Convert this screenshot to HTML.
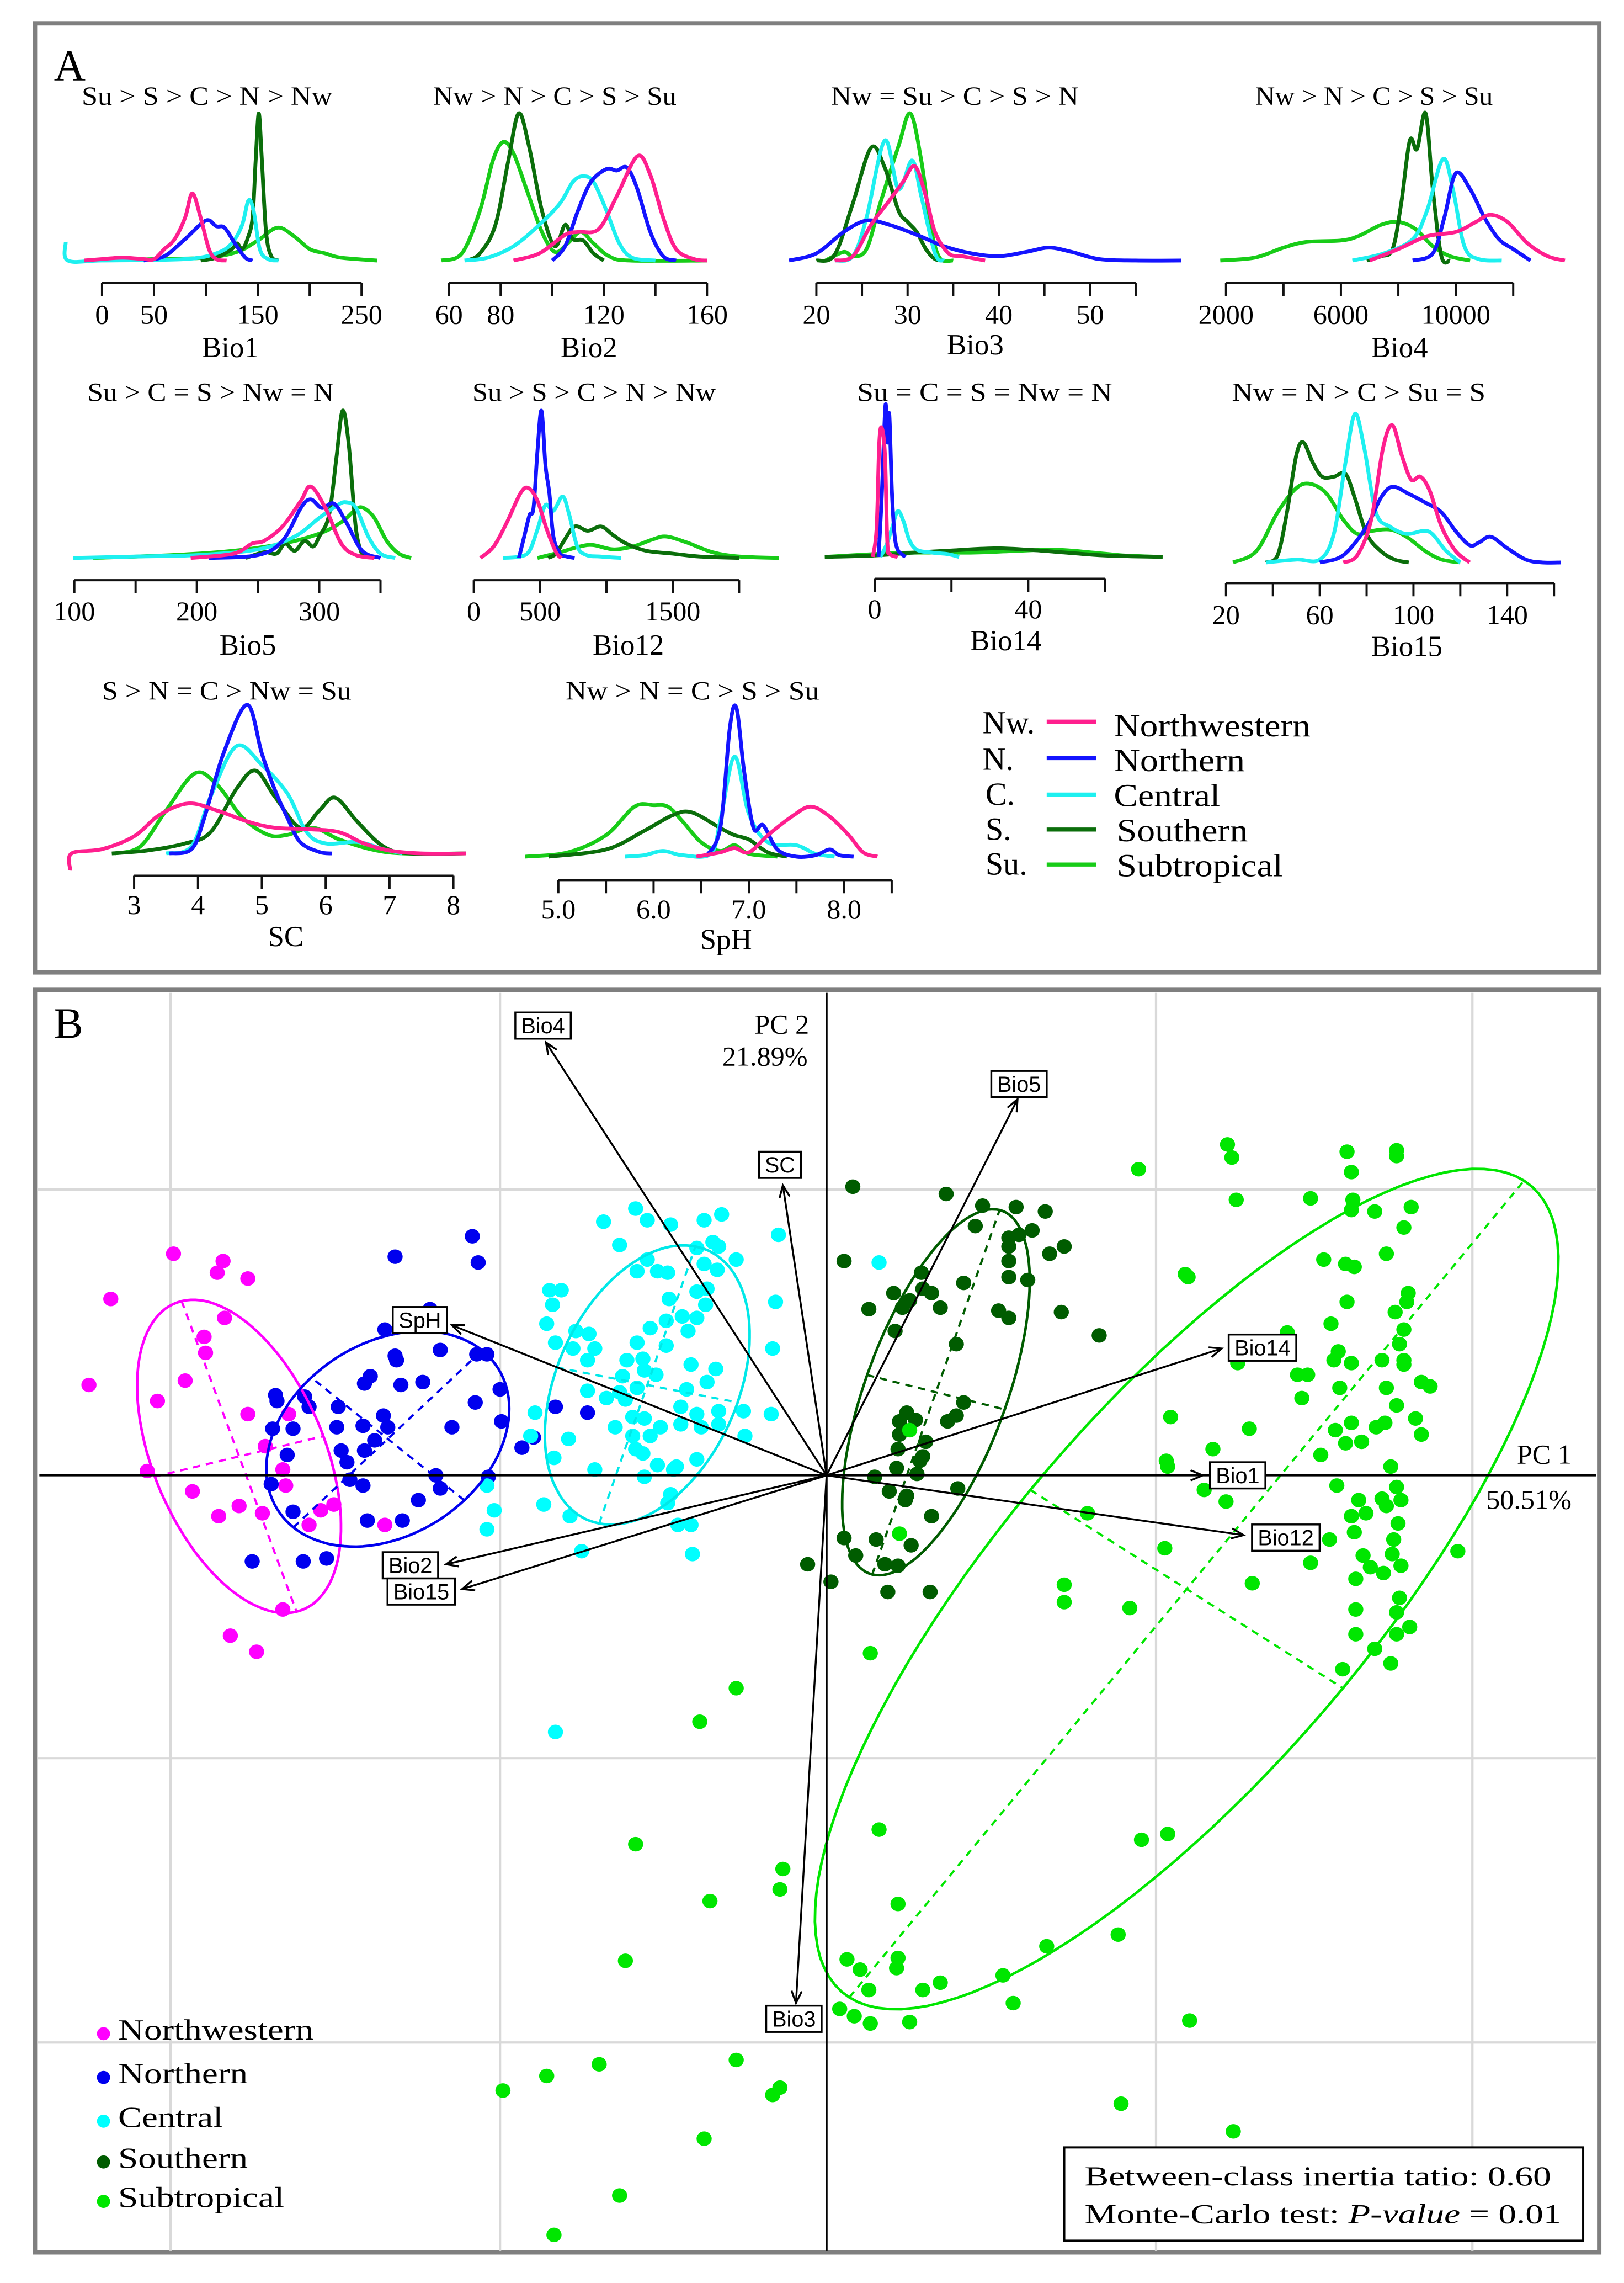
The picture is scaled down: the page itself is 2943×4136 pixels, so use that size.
<!DOCTYPE html>
<html><head><meta charset="utf-8"><style>
html,body{margin:0;padding:0;background:#fff;}
svg{display:block;}
text{font-family:"Liberation Serif",serif;}
.sans{font-family:"Liberation Sans",sans-serif;}
</style></head>
<body>
<svg id="fig" xmlns="http://www.w3.org/2000/svg" width="2943" height="4136" viewBox="0 0 1114 1566" preserveAspectRatio="none">
<rect x="0" y="0" width="1114" height="1566" fill="#fff"/>
<g>
<rect x="24" y="16" width="1073" height="651" fill="none" stroke="#7f7f7f" stroke-width="3"/>
<text x="37" y="55" font-size="30">A</text>
<g id="densities"></g>
<g font-size="22">
<text x="674" y="503">Nw.</text>
<text x="674" y="528">N.</text>
<text x="676" y="552">C.</text>
<text x="676" y="576">S.</text>
<text x="676" y="600">Su.</text>
<line x1="718" y1="495" x2="752" y2="495" stroke="#ff1f8e" stroke-width="2.8"/>
<line x1="718" y1="520" x2="752" y2="520" stroke="#1414ff" stroke-width="2.8"/>
<line x1="718" y1="545" x2="752" y2="545" stroke="#1ef0f0" stroke-width="2.8"/>
<line x1="718" y1="569" x2="752" y2="569" stroke="#0b6e0b" stroke-width="2.8"/>
<line x1="718" y1="593" x2="752" y2="593" stroke="#18cc18" stroke-width="2.8"/>
<text x="764" y="505" textLength="135" lengthAdjust="spacingAndGlyphs">Northwestern</text>
<text x="764" y="529" textLength="90" lengthAdjust="spacingAndGlyphs">Northern</text>
<text x="764" y="553" textLength="73" lengthAdjust="spacingAndGlyphs">Central</text>
<text x="766" y="577" textLength="90" lengthAdjust="spacingAndGlyphs">Southern</text>
<text x="766" y="601" textLength="114" lengthAdjust="spacingAndGlyphs">Subtropical</text>
</g>
</g>
<g>
<rect x="24" y="679" width="1073" height="866" fill="none" stroke="#7f7f7f" stroke-width="3"/>
<g id="grid"></g>
<g id="scatter"></g>
<g id="ellipses"></g>
<line x1="27" y1="1012" x2="1095" y2="1012" stroke="#000" stroke-width="1.4"/>
<line x1="567" y1="681" x2="567" y2="1544" stroke="#000" stroke-width="1.4"/>
<g id="arrows"></g>
<text x="37" y="712" font-size="30">B</text>
<text x="555" y="709" font-size="19" text-anchor="end">PC 2</text>
<text x="554" y="731" font-size="19" text-anchor="end">21.89%</text>
<text x="1078" y="1004" font-size="19" text-anchor="end">PC 1</text>
<text x="1078" y="1035" font-size="19" text-anchor="end">50.51%</text>
<g font-size="20">
<circle cx="71" cy="1395" r="4.5" fill="#ff00ff"/>
<circle cx="71" cy="1425" r="4.5" fill="#0000ee"/>
<circle cx="71" cy="1455" r="4.5" fill="#00ffff"/>
<circle cx="71" cy="1483" r="4.5" fill="#005c00"/>
<circle cx="71" cy="1510" r="4.5" fill="#00e600"/>
<text x="81" y="1399" textLength="134" lengthAdjust="spacingAndGlyphs">Northwestern</text>
<text x="81" y="1429" textLength="89" lengthAdjust="spacingAndGlyphs">Northern</text>
<text x="81" y="1459" textLength="72" lengthAdjust="spacingAndGlyphs">Central</text>
<text x="81" y="1487" textLength="89" lengthAdjust="spacingAndGlyphs">Southern</text>
<text x="81" y="1514" textLength="114" lengthAdjust="spacingAndGlyphs">Subtropical</text>
</g>
<g>
<rect x="730" y="1473" width="356" height="64" fill="#fff" stroke="#000" stroke-width="1.5"/>
<text x="744" y="1499" font-size="19" textLength="320" lengthAdjust="spacingAndGlyphs">Between-class inertia tatio: 0.60</text>
<text x="744" y="1525" font-size="19" textLength="327" lengthAdjust="spacingAndGlyphs">Monte-Carlo test: <tspan font-style="italic">P-value</tspan> = 0.01</text>
</g>
</g>
</svg>
<script>
// ===================== PANEL A DATA (value, density) =====================
const bio1Nw=[[-17,0],[0,1],[20,2],[40,1],[50,1],[60,8],[70,15],[80,30],[87,47],[95,30],[103,8],[110,1],[120,0]];
const bio1N=[[40,0],[60,3],[80,15],[100,28],[110,24],[118,23],[128,12],[138,2],[145,0]];
const bio1C=[[-35,13],[-33,0],[0,0],[80,1],[110,5],[125,12],[135,25],[141,42],[146,35],[152,8],[160,1],[170,0]];
const bio1S=[[95,0],[110,2],[125,8],[130,12],[135,8],[140,15],[145,30],[148,70],[151,103],[154,70],[158,20],[163,3],[170,0]];
const bio1Su=[[-17,0],[50,1],[100,2],[130,6],[150,14],[169,23],[185,17],[200,8],[215,5],[230,2],[265,0]];
const bio2Nw=[[85,0],[95,5],[105,18],[110,20],[118,22],[125,45],[133,73],[138,60],[143,30],[148,8],[155,1],[160,0]];
const bio2N=[[100,0],[105,10],[110,35],[115,55],[121,64],[125,63],[129,65],[133,50],[138,20],[143,3],[148,0]];
const bio2C=[[66,0],[75,2],[85,10],[95,25],[103,40],[108,55],[112,59],[116,55],[121,35],[126,12],[131,2],[140,0]];
const bio2S=[[67,0],[72,5],[78,25],[83,70],[87,103],[91,80],[96,35],[101,10],[105,25],[108,15],[112,14],[116,5],[120,0]];
const bio2Su=[[57,0],[65,5],[72,35],[77,70],[81,83],[85,75],[90,50],[96,20],[101,6],[106,12],[111,20],[116,12],[122,3],[130,0],[160,0]];
const bio3Nw=[[22,0],[24,3],[26,25],[28,42],[29.5,55],[30.8,66],[32,45],[33,20],[34.5,5],[36,3],[38.5,0]];
const bio3N=[[17,0],[20,5],[23,20],[25.5,28],[28,25],[31,18],[34,10],[37,5],[40,3],[43,6],[45.5,9],[48,6],[51,1],[55,0],[60,0]];
const bio3C=[[22,0],[24,3],[25.5,30],[27.5,84],[29,50],[30.5,70],[31.5,45],[33,5],[34,0]];
const bio3S=[[20,0],[22,4],[24,40],[26,79],[27.5,65],[29,35],[30,27],[31,20],[32,8],[33,1],[34,0]];
const bio3Su=[[21,0],[23,6],[24,3],[25.5,8],[27,40],[29,80],[30.3,103],[31.5,70],[32.5,25],[33.5,2],[35,0]];
const bio4Nw=[[7000,0],[8000,8],[9000,17],[10000,20],[10700,27],[11200,32],[11800,27],[12500,12],[13200,3],[13800,0]];
const bio4N=[[8500,0],[9200,5],[9600,30],[10000,61],[10500,50],[11000,30],[11500,15],[12000,8],[12600,0]];
const bio4C=[[6400,0],[7500,5],[8500,15],[9000,35],[9550,71],[9900,50],[10300,10],[10800,1],[11600,0]];
const bio4S=[[6900,0],[7400,3],[7800,8],[8100,40],[8400,84],[8650,78],[8950,103],[9200,50],[9500,3],[9800,0]];
const bio4Su=[[1800,0],[3000,2],[4000,9],[4800,13],[6000,14],[6600,17],[7400,25],[8000,27],[8600,22],[9200,10],[9800,3],[10500,0]];
const bio5Nw=[[195,0],[230,3],[245,10],[255,12],[270,22],[285,40],[293,50],[305,35],[318,10],[330,2],[345,0]];
const bio5N=[[210,0],[250,2],[270,12],[285,35],[293,41],[302,35],[312,38],[322,25],[335,5],[350,0]];
const bio5C=[[99,0],[150,1],[200,2],[250,6],[280,15],[300,28],[315,37],[322,39],[330,35],[340,15],[350,3],[362,0]];
const bio5S=[[240,0],[255,4],[265,3],[272,10],[280,5],[288,12],[295,8],[300,15],[308,30],[314,70],[319,103],[324,80],[330,20],[336,0]];
const bio5Su=[[115,0],[180,2],[230,5],[270,10],[300,17],[318,25],[330,34],[336,35],[345,28],[355,12],[365,3],[375,0]];
const bio12Nw=[[50,0],[150,8],[250,25],[350,45],[410,49],[480,40],[550,20],[620,4],[660,0]];
const bio12N=[[340,0],[380,15],[420,30],[450,35],[480,75],[510,103],[540,65],[570,45],[600,15],[650,3],[700,1],[760,0]];
const bio12C=[[220,0],[350,1],[420,5],[480,20],[540,37],[600,33],[670,43],[720,30],[780,8],[850,2],[950,1],[1110,0]];
const bio12S=[[560,0],[620,3],[680,12],[760,22],[860,19],[960,22],[1050,16],[1150,10],[1300,5],[1500,3],[1700,1],[2000,0]];
const bio12Su=[[480,0],[650,4],[800,8],[900,9],[1050,6],[1200,8],[1350,13],[1450,15],[1600,11],[1800,4],[2000,1],[2300,0]];
const bio14Nw=[[-0.5,0],[0.5,20],[1.2,80],[1.9,90],[2.7,70],[3.3,10],[4,2],[6,0]];
const bio14N=[[1,0],[1.8,40],[2.8,106],[3.3,80],[3.8,100],[4.5,45],[5.2,15],[6,5],[7,2],[8,0]];
const bio14C=[[1.5,0],[3,8],[4.5,20],[6,32],[7.5,25],[9,12],[11,5],[15,3],[19,2],[22,0]];
const bio14S=[[-13,0],[0,1],[10,3],[20,4.5],[31,6],[40,5],[50,3],[60,1],[75,0]];
const bio14Su=[[-13,0],[0,2],[10,3],[25,3],[35,4],[47,5],[57,3],[65,1],[75,0]];
const bio15Nw=[[70,0],[76,5],[82,30],[87,80],[91,96],[95,75],[99,58],[103,60],[107,50],[112,25],[118,8],[124,0]];
const bio15N=[[60,0],[70,5],[80,25],[86,45],[91,53],[98,48],[105,42],[112,35],[118,22],[124,12],[128,14],[133,18],[140,10],[148,2],[155,0],[163,0]];
const bio15C=[[37,0],[50,2],[60,2],[66,20],[71,70],[75,104],[79,80],[84,35],[90,25],[97,20],[104,22],[108,20],[114,8],[120,0]];
const bio15S=[[37,0],[42,5],[46,35],[50,75],[53,84],[57,70],[61,60],[66,60],[71,62],[75,45],[80,20],[86,8],[92,2],[98,0]];
const bio15Su=[[23,0],[33,8],[42,35],[50,52],[56,55],[63,48],[70,30],[76,20],[82,22],[90,23],[97,18],[105,8],[112,2],[120,0]];
const scNw=[[2.0,-12],[2.02,0],[2.5,3],[3.0,12],[3.4,27],[3.85,35],[4.3,30],[4.8,22],[5.2,18],[5.7,17],[6.2,15],[6.6,7],[7.0,2],[7.5,0],[8.2,0]];
const scN=[[3.55,0],[3.9,3],[4.1,25],[4.4,70],[4.77,104],[5.0,70],[5.2,45],[5.4,25],[5.6,8],[5.9,1],[6.1,0]];
const scC=[[3.5,0],[3.9,5],[4.2,40],[4.6,75],[5.0,62],[5.4,42],[5.7,15],[6.0,7],[6.5,8],[6.9,3],[7.2,0]];
const scS=[[2.65,0],[3.2,2],[3.8,7],[4.2,15],[4.6,45],[4.9,58],[5.2,40],[5.6,18],[5.9,30],[6.15,39],[6.5,22],[6.9,5],[7.3,0],[8.2,0]];
const scSu=[[2.7,0],[3.1,5],[3.5,30],[3.95,56],[4.3,48],[4.7,25],[5.1,13],[5.4,13],[5.8,18],[6.2,10],[6.7,3],[7.2,0],[8.2,0]];
const sphNw=[[6.45,0],[6.7,3],[6.85,6],[7.0,3],[7.2,15],[7.45,28],[7.65,35],[7.85,28],[8.05,15],[8.2,3],[8.35,0]];
const sphN=[[6.55,0],[6.7,20],[6.8,90],[6.87,104],[6.95,60],[7.05,20],[7.15,22],[7.3,5],[7.5,0],[7.7,1],[7.85,5],[7.95,1],[8.1,0]];
const sphC=[[5.7,0],[5.9,1],[6.1,4],[6.3,1],[6.6,2],[6.7,25],[6.85,70],[7.0,30],[7.2,10],[7.5,8],[7.7,2],[7.9,0]];
const sphS=[[4.9,0],[5.5,5],[5.9,18],[6.2,29],[6.4,31],[6.7,20],[6.85,15],[7.0,12],[7.2,3],[7.4,0]];
const sphSu=[[4.65,0],[5.1,3],[5.5,15],[5.8,35],[6.0,36],[6.15,35],[6.3,25],[6.5,10],[6.7,4],[6.85,8],[7.0,2],[7.3,0]];

const bio1Ticks=[0,50,100,150,200,250], bio1Labels=[0,50,150,250];
const bio2Ticks=[60,80,100,120,140,160], bio2Labels=[60,80,120,160];
const bio3Ticks=[20,25,30,35,40,45,50,55], bio3Labels=[20,30,40,50];
const bio4Ticks=[2000,4000,6000,8000,10000,12000], bio4Labels=[2000,6000,10000];
const bio5Ticks=[100,150,200,250,300,350], bio5Labels=[100,200,300];
const bio12Ticks=[0,500,1000,1500,2000], bio12Labels=[0,500,1500];
const bio14Ticks=[0,20,40,60], bio14Labels=[0,40];
const bio15Ticks=[20,40,60,80,100,120,140,160], bio15Labels=[20,60,100,140];
const scTicks=[3,4,5,6,7,8], scLabels=[3,4,5,6,7,8];
const sphTicks=[5.0,5.5,6.0,6.5,7.0,7.5,8.0,8.5], sphLabels=["5.0","6.0","7.0","8.0"];

// ===================== PANEL B DATA (PC1, PC2 scores) =====================
const nwPoints=[[-4.48,1.52],[-4.14,1.47],[-4.18,1.39],[-3.97,1.35],[-4.91,1.21],[-4.13,1.08],[-4.27,0.95],[-4.26,0.84],[-5.06,0.62],[-4.40,0.65],[-4.59,0.51],[-3.97,0.42],[-3.69,0.42],[-3.85,0.20],[-4.66,0.03],[-3.73,0.04],[-3.71,-0.07],[-4.35,-0.11],[-4.03,-0.21],[-4.17,-0.28],[-3.87,-0.26],[-3.55,-0.34],[-3.47,-0.24],[-3.38,-0.20],[-3.03,-0.34],[-3.73,-0.92],[-4.09,-1.10],[-3.91,-1.21]];
const nPoints=[[-2.43,1.64],[-2.39,1.46],[-2.96,1.50],[-2.72,1.14],[-3.03,1.00],[-2.96,0.82],[-2.95,0.79],[-2.65,0.86],[-2.40,0.83],[-2.33,0.83],[-2.24,0.59],[-2.41,0.50],[-2.23,0.37],[-2.57,0.33],[-2.77,0.64],[-2.92,0.62],[-3.17,0.63],[-3.13,0.68],[-3.35,0.47],[-3.55,0.47],[-3.78,0.55],[-3.77,0.51],[-3.58,0.54],[-3.80,0.32],[-3.66,0.32],[-3.36,0.33],[-3.18,0.34],[-3.04,0.41],[-3.01,0.33],[-3.10,0.24],[-3.33,0.17],[-3.17,0.17],[-3.29,0.09],[-3.70,0.14],[-3.81,-0.06],[-3.27,-0.03],[-3.18,-0.07],[-2.68,0.00],[-2.65,-0.09],[-2.32,-0.01],[-2.09,0.19],[-2.01,0.26],[-1.86,0.47],[-1.64,0.43],[-2.80,-0.17],[-2.91,-0.31],[-3.15,-0.31],[-3.66,-0.25],[-3.94,-0.59],[-3.59,-0.59],[-3.43,-0.57]];
const cPoints=[[-1.31,1.83],[-1.23,1.75],[-1.53,1.74],[-1.07,1.72],[-0.84,1.75],[-0.72,1.79],[-0.33,1.65],[-1.42,1.58],[-0.89,1.56],[-0.78,1.60],[-0.74,1.57],[-0.62,1.48],[-1.23,1.48],[-1.30,1.40],[-1.16,1.40],[-1.09,1.39],[-0.84,1.45],[-0.75,1.41],[-1.90,1.27],[-1.82,1.27],[-1.88,1.17],[-1.08,1.21],[-0.89,1.26],[-0.82,1.28],[-0.83,1.17],[-0.35,1.19],[-1.92,1.04],[-1.10,1.06],[-0.99,1.09],[-0.89,1.08],[-0.95,0.99],[-1.21,1.01],[-1.72,0.99],[-1.63,0.97],[-1.86,0.91],[-1.74,0.87],[-1.59,0.87],[-1.64,0.79],[-1.30,0.91],[-1.10,0.89],[-0.37,0.87],[-1.37,0.79],[-1.26,0.80],[-1.25,0.72],[-0.93,0.76],[-0.76,0.73],[-1.40,0.68],[-1.17,0.69],[-0.82,0.64],[-1.64,0.58],[-1.42,0.57],[-1.30,0.60],[-0.96,0.59],[-1.51,0.53],[-1.38,0.52],[-1.00,0.47],[-0.74,0.44],[-0.57,0.44],[-0.38,0.42],[-2.00,0.43],[-1.45,0.33],[-1.33,0.40],[-1.25,0.39],[-1.14,0.33],[-1.00,0.35],[-0.89,0.42],[-0.86,0.33],[-0.74,0.35],[-0.56,0.27],[-1.77,0.25],[-1.33,0.27],[-1.21,0.27],[-1.26,0.15],[-1.87,0.12],[-1.31,0.18],[-0.89,0.11],[-1.16,0.07],[-1.05,0.04],[-1.03,0.06],[-1.59,0.04],[-1.25,-0.01],[-1.07,-0.13],[-1.09,-0.19],[-1.94,-0.20],[-1.76,-0.28],[-1.02,-0.34],[-0.93,-0.34],[-1.68,-0.52],[-0.92,-0.54],[-2.33,-0.07],[-2.28,-0.24],[-2.33,-0.37],[-2.03,0.27],[-1.86,-1.76],[0.36,1.46]];
const sPoints=[[0.18,1.98],[0.82,1.93],[1.07,1.85],[1.30,1.84],[1.50,1.81],[1.02,1.71],[1.41,1.68],[1.25,1.63],[1.32,1.65],[1.25,1.57],[1.63,1.57],[1.53,1.52],[0.12,1.47],[1.25,1.47],[0.65,1.39],[1.25,1.36],[1.38,1.34],[0.94,1.32],[0.46,1.25],[0.66,1.28],[0.72,1.25],[0.57,1.20],[0.52,1.15],[0.78,1.15],[0.29,1.14],[1.18,1.13],[1.25,1.08],[1.61,1.12],[1.87,0.96],[0.47,0.99],[0.89,0.90],[0.55,0.43],[0.94,0.50],[0.89,0.41],[0.83,0.37],[0.50,0.37],[0.61,0.38],[0.50,0.28],[0.68,0.23],[0.49,0.18],[0.66,0.13],[0.64,0.10],[0.48,0.05],[0.33,-0.01],[0.62,0.01],[0.43,-0.11],[0.90,-0.09],[0.55,-0.14],[0.54,-0.17],[0.72,-0.28],[0.12,-0.43],[0.34,-0.44],[0.20,-0.55],[0.58,-0.48],[0.40,-0.61],[0.49,-0.62],[-0.13,-0.61],[0.03,-0.73],[0.42,-0.80],[0.71,-0.80]];
const suPoints=[[2.75,2.27],[2.78,2.18],[3.57,2.22],[3.91,2.23],[3.91,2.19],[3.60,2.08],[2.14,2.10],[2.81,1.89],[3.32,1.90],[3.61,1.89],[3.60,1.82],[3.76,1.81],[4.01,1.84],[3.96,1.70],[3.41,1.48],[3.56,1.45],[3.62,1.43],[3.84,1.52],[2.46,1.38],[2.48,1.36],[3.57,1.19],[3.99,1.25],[3.98,1.19],[3.90,1.12],[3.46,1.04],[3.96,1.00],[3.16,0.98],[3.93,0.90],[2.82,0.77],[3.51,0.85],[3.48,0.79],[3.60,0.77],[3.81,0.79],[3.96,0.79],[3.96,0.76],[3.23,0.69],[3.30,0.69],[3.52,0.60],[3.84,0.60],[4.08,0.64],[4.14,0.61],[3.26,0.53],[3.91,0.48],[2.36,0.40],[2.90,0.32],[4.04,0.39],[3.60,0.36],[3.49,0.31],[3.83,0.36],[3.77,0.33],[4.08,0.28],[3.56,0.22],[3.67,0.23],[2.65,0.18],[3.39,0.14],[2.33,0.10],[2.34,0.06],[0.57,0.31],[3.87,0.06],[3.50,-0.07],[2.59,-0.10],[2.74,-0.18],[3.91,-0.08],[3.65,-0.17],[3.81,-0.16],[3.94,-0.17],[3.84,-0.21],[3.60,-0.28],[3.70,-0.26],[1.79,-0.26],[3.92,-0.33],[3.62,-0.39],[3.45,-0.44],[3.89,-0.44],[4.33,-0.52],[2.32,-0.50],[3.68,-0.55],[3.88,-0.54],[3.32,-0.60],[3.73,-0.63],[3.82,-0.67],[3.94,-0.62],[3.63,-0.71],[0.50,-0.40],[2.92,-0.74],[1.63,-0.75],[1.63,-0.87],[2.08,-0.91],[3.93,-0.84],[3.63,-0.92],[3.91,-0.94],[4.00,-1.04],[3.91,-1.09],[3.63,-1.09],[3.76,-1.19],[3.87,-1.29],[3.54,-1.33],[0.30,-1.22],[-0.62,-1.46],[-0.87,-1.69],[0.36,-2.43],[2.16,-2.50],[2.34,-2.46],[-1.31,-2.53],[-0.30,-2.70],[-0.32,-2.84],[-0.80,-2.92],[0.49,-2.94],[2.00,-3.15],[1.51,-3.23],[-1.38,-3.33],[0.14,-3.32],[0.23,-3.39],[0.49,-3.31],[0.48,-3.38],[1.21,-3.43],[0.78,-3.48],[0.66,-3.53],[0.29,-3.53],[1.28,-3.62],[0.09,-3.66],[0.19,-3.71],[0.30,-3.76],[0.57,-3.75],[2.49,-3.74],[-0.62,-4.01],[-1.56,-4.04],[-1.92,-4.12],[-2.22,-4.22],[-0.32,-4.20],[-0.37,-4.25],[2.02,-4.31],[2.79,-4.50],[-0.84,-4.55],[-1.42,-4.94],[-1.87,-5.21]];

const ellCenters=[[-4.03,0.13],[-3.01,0.25],[-1.23,0.62],[0.75,0.57],[2.47,-0.78]];
const ellMajor=[[0.394,-1.065],[0.647,0.607],[0.33,0.95],[0.437,1.25],[2.314,2.801]];
const ellMinor=[[0.578,0.139],[-0.525,0.421],[0.62,-0.12],[0.472,-0.118],[1.072,-0.68]];

const varNames=["Bio4","SC","SpH","Bio2","Bio15","Bio5","Bio14","Bio1","Bio12","Bio3"];
const varPC1=[-1.925,-0.30,-2.57,-2.61,-2.50,1.31,2.71,2.58,2.86,-0.21];
const varPC2=[2.97,1.99,1.03,-0.61,-0.78,2.58,0.87,0.00,-0.41,-3.62];

// ===================== RENDER =====================
const NS='http://www.w3.org/2000/svg';
function mk(tag,attrs,parent){const e=document.createElementNS(NS,tag);for(const k in attrs)e.setAttribute(k,attrs[k]);parent.appendChild(e);return e;}
function smooth(p){let d='M'+p[0][0].toFixed(2)+','+p[0][1].toFixed(2);
 for(let i=0;i<p.length-1;i++){const p0=p[i-1]||p[i],p1=p[i],p2=p[i+1],p3=p[i+2]||p2;
  const c1x=p1[0]+(p2[0]-p0[0])/6,c1y=p1[1]+(p2[1]-p0[1])/6,c2x=p2[0]-(p3[0]-p1[0])/6,c2y=p2[1]-(p3[1]-p1[1])/6;
  d+=' C'+c1x.toFixed(2)+','+c1y.toFixed(2)+' '+c2x.toFixed(2)+','+c2y.toFixed(2)+' '+p2[0].toFixed(2)+','+p2[1].toFixed(2);}
 return d;}
const curveColors=["#ff1f8e","#1414ff","#1ef0f0","#0b6e0b","#18cc18"];
const drawOrder=[4,3,2,1,0];
const panels=[
 {id:'bio1',title:'Su > S > C > N > Nw',t1:56,t2:228,ty:72,at:'Bio1',ax:158,v0:0,p0:70,v1:250,p1:248,base:178.7,axisY:194,lab:222,aty:245,ticks:bio1Ticks,labels:bio1Labels,s:[bio1Nw,bio1N,bio1C,bio1S,bio1Su]},
 {id:'bio2',title:'Nw > N > C > S > Su',t1:297,t2:464,ty:72,at:'Bio2',ax:404,v0:60,p0:308,v1:160,p1:485,base:178.7,axisY:194,lab:222,aty:245,ticks:bio2Ticks,labels:bio2Labels,s:[bio2Nw,bio2N,bio2C,bio2S,bio2Su]},
 {id:'bio3',title:'Nw = Su > C > S > N',t1:570,t2:740,ty:72,at:'Bio3',ax:669,v0:20,p0:560,v1:55,p1:779,base:178.7,axisY:194,lab:222,aty:243,ticks:bio3Ticks,labels:bio3Labels,s:[bio3Nw,bio3N,bio3C,bio3S,bio3Su]},
 {id:'bio4',title:'Nw > N > C > S > Su',t1:861,t2:1024,ty:72,at:'Bio4',ax:960,v0:2000,p0:841,v1:12000,p1:1038,base:178.7,axisY:194,lab:222,aty:245,ticks:bio4Ticks,labels:bio4Labels,s:[bio4Nw,bio4N,bio4C,bio4S,bio4Su]},
 {id:'bio5',title:'Su > C = S > Nw = N',t1:60,t2:229,ty:275,at:'Bio5',ax:170,v0:100,p0:51,v1:350,p1:261,base:382.7,axisY:398,lab:425.5,aty:449,ticks:bio5Ticks,labels:bio5Labels,s:[bio5Nw,bio5N,bio5C,bio5S,bio5Su]},
 {id:'bio12',title:'Su > S > C > N > Nw',t1:324,t2:491,ty:275,at:'Bio12',ax:431,v0:0,p0:325,v1:2000,p1:507,base:382.7,axisY:398,lab:425.5,aty:449,ticks:bio12Ticks,labels:bio12Labels,s:[bio12Nw,bio12N,bio12C,bio12S,bio12Su]},
 {id:'bio14',title:'Su = C = S = Nw = N',t1:588,t2:763,ty:275,at:'Bio14',ax:690,v0:0,p0:600,v1:60,p1:758,base:382,axisY:397,lab:424,aty:446,ticks:bio14Ticks,labels:bio14Labels,s:[bio14Nw,bio14N,bio14C,bio14S,bio14Su]},
 {id:'bio15',title:'Nw = N > C > Su = S',t1:845,t2:1019,ty:275,at:'Bio15',ax:965,v0:20,p0:841,v1:160,p1:1066,base:385.8,axisY:400,lab:428,aty:450,ticks:bio15Ticks,labels:bio15Labels,s:[bio15Nw,bio15N,bio15C,bio15S,bio15Su]},
 {id:'sc',title:'S > N = C > Nw = Su',t1:70,t2:241,ty:480,at:'SC',ax:196,v0:3,p0:92,v1:8,p1:311,base:585.4,axisY:600.7,lab:627,aty:649,ticks:scTicks,labels:scLabels,s:[scNw,scN,scC,scS,scSu]},
 {id:'sph',title:'Nw > N = C > S > Su',t1:388,t2:562,ty:480,at:'SpH',ax:498,v0:5,p0:383,v1:8,p1:579,base:587.6,axisY:603.7,lab:630,aty:651,ticks:sphTicks,labels:sphLabels,s:[sphNw,sphN,sphC,sphS,sphSu]}
];
const dens=document.getElementById('densities');
const hScale=0.98;
panels.forEach(P=>{
 const g=mk('g',{},dens);
 
 
 const sx=v=>P.p0+(v-P.v0)*(P.p1-P.p0)/(P.v1-P.v0);
 const sy=d=>P.base-d*hScale;
 const t=mk('text',{x:P.t1,y:P.ty,'font-size':18,textLength:P.t2-P.t1,lengthAdjust:'spacingAndGlyphs'},g);
 t.textContent=P.title;
 
 
 drawOrder.forEach(k=>{
  const pts=P.s[k].map(q=>[sx(q[0]),sy(q[1])]);
  const path=mk('path',{d:smooth(pts),fill:'none',stroke:curveColors[k],'stroke-width':2.6,'stroke-linejoin':'round'},g);
  
  
 });
 const tk=P.ticks;
 const ax=mk('path',{d:'M'+sx(tk[0])+','+P.axisY+' H'+sx(tk[tk.length-1])+tk.map(v=>' M'+sx(v)+','+P.axisY+' v9').join(''),stroke:'#111',fill:'none','stroke-width':1.5},g);
 
 
 P.labels.forEach(v=>{
  const lt=mk('text',{x:sx(parseFloat(v)),y:P.lab,'font-size':19,'text-anchor':'middle'},g);
  lt.textContent=v;
  
  
 });
 const at=mk('text',{x:P.ax,y:P.aty,'font-size':20,'text-anchor':'middle'},g);
 at.textContent=P.at;
 
 
});

// Panel B
const bx=v=>567+v*100, by=v=>1012-v*100;
const grid=document.getElementById('grid');
[117,343,793,1010].forEach(x=>{const l=mk('line',{x1:x,y1:681,x2:x,y2:1544,stroke:'#d9d9d9','stroke-width':1.6},grid);
 
 });
[816,1206,1401].forEach(y=>{const l=mk('line',{x1:26,y1:y,x2:1095,y2:y,stroke:'#d9d9d9','stroke-width':1.6},grid);
 
 });
const sc=document.getElementById('scatter');
const classPts=[nwPoints,nPoints,cPoints,sPoints,suPoints];
const classNames=['northwestern','northern','central','southern','subtropical'];
const pointColors=['#ff00ff','#0000ee','#00ffff','#005c00','#00e600'];
classPts.forEach((arr,k)=>{arr.forEach(p=>{
 const c=mk('ellipse',{cx:bx(p[0]),cy:by(p[1]),rx:5.2,ry:5,fill:pointColors[k]},sc);
 
 
});});
const ellColors=['#ff00ff','#0000ee','#00e8e8','#005c00','#00e600'];
const eg=document.getElementById('ellipses');
ellCenters.forEach((c,k)=>{
 const a=ellMajor[k],b=ellMinor[k];let pts=[];
 for(let i=0;i<=120;i++){const t=i/120*2*Math.PI;pts.push([bx(c[0]+Math.cos(t)*a[0]+Math.sin(t)*b[0]),by(c[1]+Math.cos(t)*a[1]+Math.sin(t)*b[1])]);}
 const e=mk('path',{d:'M'+pts.map(q=>q[0].toFixed(1)+','+q[1].toFixed(1)).join(' L')+'Z',fill:'none',stroke:ellColors[k],'stroke-width':1.8},eg);
 
 
 [a,b].forEach(v=>{const l=mk('line',{x1:bx(c[0]-v[0]),y1:by(c[1]-v[1]),x2:bx(c[0]+v[0]),y2:by(c[1]+v[1]),stroke:ellColors[k],'stroke-width':1.5,'stroke-dasharray':'5,4'},eg);
  
  });
});
const labelOffsets=[[-2,-11.5],[-2,-14],[-22,-3.5],[-24.5,0.7],[-28,1.7],[1,-10.4],[28,-0.6],[24,0],[29,1.7],[-1.4,10.8]];
const ag=document.getElementById('arrows');
varNames.forEach((nm,i)=>{
 const hx=bx(varPC1[i]),hy=by(varPC2[i]),ox=bx(0),oy=by(0);
 const ang=Math.atan2(hy-oy,hx-ox),L=9,w=0.4;
 const ln=mk('path',{d:`M${ox},${oy} L${hx},${hy} M${hx-L*Math.cos(ang-w)},${hy-L*Math.sin(ang-w)} L${hx},${hy} L${hx-L*Math.cos(ang+w)},${hy-L*Math.sin(ang+w)}`,stroke:'#000',fill:'none','stroke-width':1.3},ag);
 
 
 const cx=hx+labelOffsets[i][0],cy=hy+labelOffsets[i][1];
 const r=mk('rect',{fill:'#fff',stroke:'#000','stroke-width':1.3},ag);
 
 
 const t=mk('text',{x:cx,y:cy+5.3,'font-size':15,'text-anchor':'middle','class':'sans'},ag);
 t.textContent=nm;
 
 
 let w2=nm.length*8.5;try{w2=t.getComputedTextLength();}catch(e){}
 r.setAttribute('x',cx-w2/2-4);r.setAttribute('y',cy-9);r.setAttribute('width',w2+8);r.setAttribute('height',18);
});
</script>
</body></html>
